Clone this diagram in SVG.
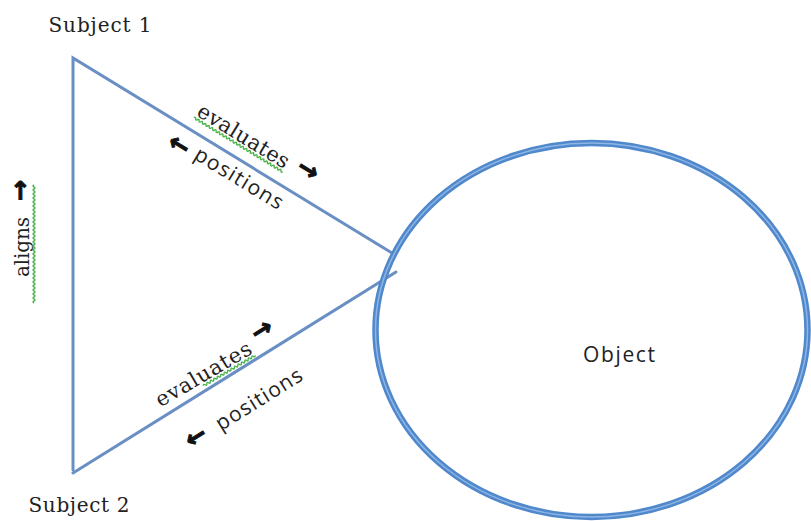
<svg xmlns="http://www.w3.org/2000/svg" width="811" height="521" viewBox="0 0 811 521">
<style>
.edge{fill:none;stroke:#6a8fc4;stroke-width:3;stroke-linecap:round}
.serif{font-family:"DejaVu Serif","Liberation Serif",serif;fill:#222}
.sans{font-family:"Open Sans","Liberation Sans",sans-serif;fill:#222}
.arr{font-family:"DejaVu Sans",sans-serif;font-weight:bold;fill:#111;stroke:#111;stroke-width:1;font-size:25px}
.sq{fill:none;stroke:#4db34d;stroke-width:1.4}
</style>
<rect width="811" height="521" fill="#fff"/>
<g id="connectors">
<path class="edge" d="M73,470 L73,58 L392,253"/>
<path class="edge" d="M73,473 L396,272"/>
</g>
<g id="object">
<ellipse cx="591.5" cy="330" rx="216" ry="187" fill="none" stroke="#5088cc" stroke-width="6.5"/>
<ellipse cx="591.5" cy="330" rx="216" ry="187" fill="none" stroke="#8db5e6" stroke-width="1.5"/>
<text class="sans" x="619" y="362" font-size="21" text-anchor="middle" textLength="72">Object</text>
</g>
<g id="subject1">
<text class="serif" x="100" y="32" font-size="20" text-anchor="middle" textLength="103">Subject 1</text>
</g>
<g id="subject2">
<text class="serif" x="79" y="512" font-size="20" text-anchor="middle" textLength="101">Subject 2</text>
</g>
<g id="label-top">
<g transform="translate(243,137) rotate(31.4)">
<text class="serif" x="0" y="6" font-size="21" text-anchor="middle" textLength="104">evaluates</text>
<path class="sq" d="M-52,9 q1,-2 2,0 t2,0 t2,0 t2,0 t2,0 t2,0 t2,0 t2,0 t2,0 t2,0 t2,0 t2,0 t2,0 t2,0 t2,0 t2,0 t2,0 t2,0 t2,0 t2,0 t2,0 t2,0 t2,0 t2,0 t2,0 t2,0 t2,0 t2,0 t2,0 t2,0 t2,0 t2,0 t2,0 t2,0 t2,0 t2,0 t2,0 t2,0 t2,0 t2,0 t2,0 t2,0 t2,0 t2,0 t2,0 t2,0 t2,0 t2,0 t2,0 t2,0 t2,0 t2,0"/>
</g>
<text class="arr" text-anchor="middle" transform="translate(308,170) rotate(31.4)" y="8">→</text>
<text class="sans" font-size="21" text-anchor="middle" transform="translate(238,180) rotate(31.4)" y="5" textLength="100">positions</text>
<text class="arr" text-anchor="middle" transform="translate(179,145) rotate(31.4)" y="8">←</text>
</g>
<g id="label-bottom">
<g transform="translate(204,375) rotate(-30.5)">
<text class="serif" x="0" y="6" font-size="21" text-anchor="middle" textLength="108">evaluates</text>
<path class="sq" d="M-6,9 q1,-2 2,0 t2,0 t2,0 t2,0 t2,0 t2,0 t2,0 t2,0 t2,0 t2,0 t2,0 t2,0 t2,0 t2,0 t2,0 t2,0 t2,0 t2,0 t2,0 t2,0 t2,0 t2,0 t2,0 t2,0 t2,0 t2,0 t2,0 t2,0 t2,0 t2,0"/>
</g>
<text class="arr" text-anchor="middle" transform="translate(262,330) rotate(-32)" y="8">→</text>
<text class="sans" font-size="21" text-anchor="middle" transform="translate(260,401) rotate(-32)" y="5" textLength="98">positions</text>
<text class="arr" text-anchor="middle" transform="translate(196,437) rotate(-32)" y="8">←</text>
</g>
<g id="label-left">
<g transform="translate(23,247) rotate(-90)">
<text class="serif" x="0" y="6" font-size="20" text-anchor="middle" textLength="60">aligns</text>
<path class="sq" d="M-56,11 q1,-2 2,0 t2,0 t2,0 t2,0 t2,0 t2,0 t2,0 t2,0 t2,0 t2,0 t2,0 t2,0 t2,0 t2,0 t2,0 t2,0 t2,0 t2,0 t2,0 t2,0 t2,0 t2,0 t2,0 t2,0 t2,0 t2,0 t2,0 t2,0 t2,0 t2,0 t2,0 t2,0 t2,0 t2,0 t2,0 t2,0 t2,0 t2,0 t2,0 t2,0 t2,0 t2,0 t2,0 t2,0 t2,0 t2,0 t2,0 t2,0 t2,0 t2,0 t2,0 t2,0 t2,0 t2,0 t2,0 t2,0 t2,0 t2,0 t2,0"/>
<text class="arr" x="46" y="5">→</text>
</g>
</g>
</svg>
